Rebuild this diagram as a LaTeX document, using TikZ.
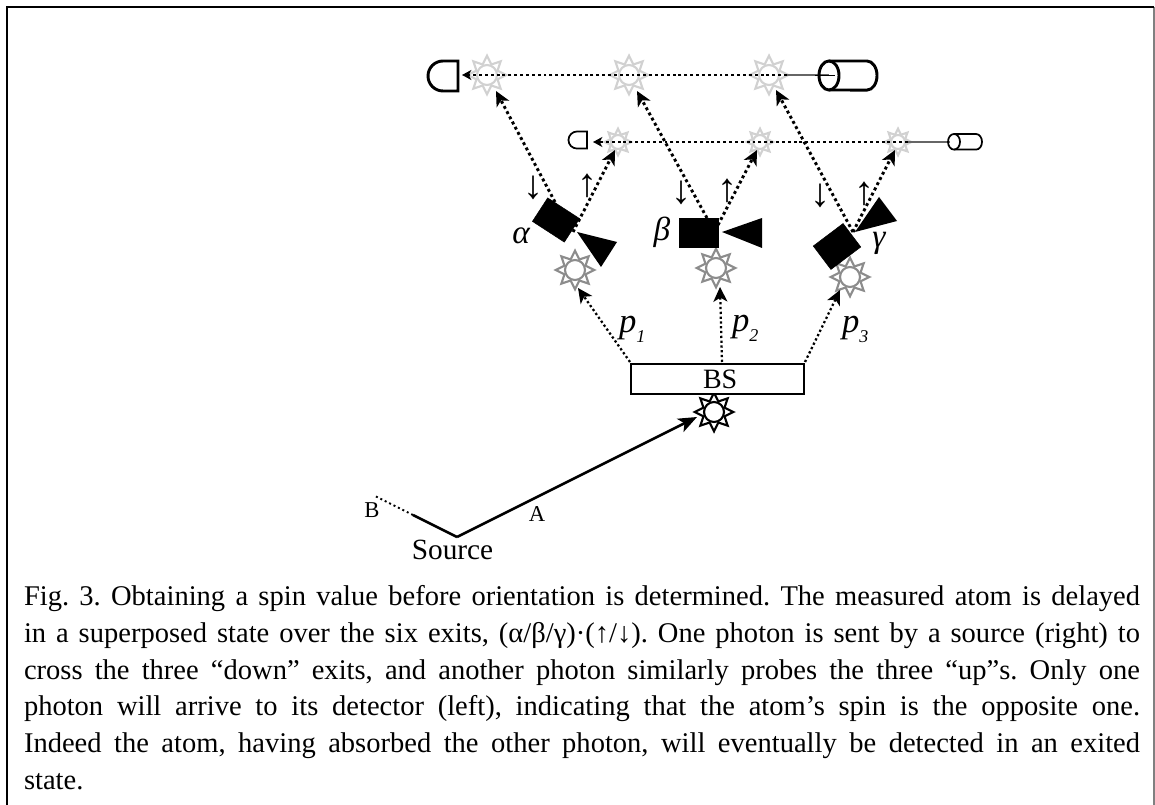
\documentclass[tikz,border=0pt]{standalone}
\usepackage{fontspec}
\setmainfont{Liberation Serif}
\usetikzlibrary{shapes.geometric,arrows.meta,calc}
\definecolor{stargray}{gray}{0.55}
\definecolor{starlight}{gray}{0.82}
\tikzset{
  x=0.75pt,y=-0.75pt,
  every node/.style={inner sep=0pt,outer sep=0pt},
  frame/.style={draw=black,line width=1.6pt},
  startip/.style={-{Stealth[length=11pt,width=10.5pt,inset=3pt]}},
  smalltip/.style={-{Stealth[length=7pt,width=7.5pt,inset=2pt]}},
  dotline/.style={line width=2.2pt,dash pattern=on 2.2pt off 2.2pt,startip},
  dotlineh/.style={line width=2.2pt,dash pattern=on 2.2pt off 2.2pt,smalltip},
  dotlinethin/.style={line width=1.7pt,dash pattern=on 1.7pt off 1.9pt,startip},
  solidray/.style={line width=1.9pt},
  thinray/.style={line width=0.8pt,draw=black!60},
  blockbox/.style={fill=black,draw=black,line width=0.4pt},
  star8/.style={star,star points=8,star point ratio=1.7,fill=white,line width=1.6pt,minimum size=#1},
  bigdet/.style={line width=2.2pt},
  smalldet/.style={line width=1.3pt},
  lab/.style={font=\fontsize{17}{19}\selectfont},
  mathlab/.style={font=\fontsize{25}{28}\selectfont\itshape},
  plab/.style={font=\fontsize{26}{28}\selectfont\itshape},
  arr/.style={font=\fontsize{30}{32}\selectfont},
}
\newcommand{\sunstar}[6]{% name,x,y,colour,size,ringradius
  \node[star8=#5,draw=#4] (#1) at (#2,#3) {};
  \draw[#4,fill=white,line width=1.6pt] (#2,#3) circle (#6);
}
\newcommand{\psub}[1]{p\raisebox{-7.5pt}{\fontsize{13.5}{14}\selectfont #1}}
\begin{document}
\begin{tikzpicture}
\useasboundingbox (0,0) rectangle (1155,805);
\draw[draw=black!50,line width=0.8pt] (1154,7) -- (1154,805);
\draw[frame] (7,805) -- (7,7) -- (1154,7);

% stars
\sunstar{t1}{487}{75}{starlight}{29pt}{10}
\sunstar{t2}{629}{75}{starlight}{29pt}{10}
\sunstar{t3}{769}{75}{starlight}{29pt}{10}
\sunstar{s1}{618}{142}{starlight}{20pt}{7}
\sunstar{s2}{760}{142}{starlight}{20pt}{7}
\sunstar{s3}{898}{142}{starlight}{20pt}{7}
\sunstar{m1}{575}{270}{stargray}{29pt}{10}
\sunstar{m2}{716}{268}{stargray}{29pt}{10}
\sunstar{m3}{850}{277}{stargray}{29pt}{10}
\sunstar{bsstar}{714}{412}{black}{29pt}{10}

% detectors
\node (bigd) at (458,76) {};
\draw[bigdet] (458,61) -- (443,61) arc[start angle=90,end angle=270,radius=11.25pt] -- (458,91) -- cycle;
\node (smalld) at (587,140) {};
\draw[smalldet] (587,131.5) -- (577,131.5) arc[start angle=90,end angle=270,radius=6.4pt] -- (587,148.5) -- cycle;

% sources
\coordinate (bigsrc) at (835,75);
\coordinate (smallsrc) at (950,142);
\draw[thinray] (787,75) -- (bigsrc);
\draw[thinray] (908,142) -- (smallsrc);
\draw[bigdet,fill=white] (829,61) -- (867,61) arc[start angle=90,end angle=-90,x radius=7.5pt,y radius=10.9pt] -- (829,90);
\draw[bigdet] (829,75.5) ellipse[x radius=7.5pt,y radius=10.9pt];
\draw[line width=0.6pt] (815,75) -- (bigsrc);
\draw[smalldet,fill=white] (954,134) -- (976,134) arc[start angle=90,end angle=-90,x radius=4.5pt,y radius=5.85pt] -- (954,149.6);
\draw[smalldet] (954,141.8) ellipse[x radius=4.5pt,y radius=5.85pt];

% horizontal probes
\coordinate (t3e) at (787,75);
\coordinate (s3e) at (908,142);
\coordinate (tipbig) at (462,75);
\coordinate (tipsmall) at (593,142);
\draw[dotlineh] (t3e) -- (tipbig);
\draw[dotlineh] (s3e) -- (tipsmall);

% blocks
\node[blockbox,minimum width=28.5pt,minimum height=21pt,rotate=-33] (ba) at (556,220) {};
\node[blockbox,minimum width=29pt,minimum height=22pt] (bb) at (698.5,232.5) {};
\node[blockbox,minimum width=28pt,minimum height=22pt,rotate=37] (bc) at (837,246.5) {};
\fill (577,232) -- (617,242) -- (601,267) -- cycle;
\fill (722,232) -- (762,218) -- (762,248) -- cycle;
\fill (855,232) -- (879,197) -- (897,221) -- cycle;

% exits
\coordinate (a1) at (555,202); \coordinate (a2) at (573,232);
\coordinate (b1) at (707,218); \coordinate (b2) at (718,225);
\coordinate (c1) at (853,232);
\coordinate (ta) at (496,91); \coordinate (tb) at (637,91); \coordinate (tc) at (776,90);
\coordinate (ua) at (615,150); \coordinate (ub) at (757,150); \coordinate (uc) at (895,150);
\draw[dotline] (a1) -- (ta);
\draw[dotline] (b1) -- (tb);
\draw[dotline] (c1) -- (tc);
\draw[dotline] (a2) -- (ua);
\draw[dotline] (b2) -- (ub);
\draw[dotline] (c1) -- (uc);

% arrows labels
\node[arr] at (533,188) {↓};
\node[arr] at (587,186) {↑};
\node[arr] at (681,193) {↓};
\node[arr] at (727,191) {↑};
\node[arr] at (820,196) {↓};
\node[arr] at (864,194) {↑};
\node[mathlab] at (521,236) {α};
\node[mathlab] at (662,232) {β};
\node[mathlab] at (879,243) {γ};

% beam splitter
\node[draw,line width=1.6pt,fill=white,minimum width=130pt,minimum height=23pt,font=\fontsize{21}{24}\selectfont] (bs) at (717.5,379) {\hspace*{4pt}BS};
\coordinate (p1s) at (630,362); \coordinate (p2s) at (722,362); \coordinate (p3s) at (805,362);
\coordinate (p1t) at (578,288); \coordinate (p2t) at (720,287); \coordinate (p3t) at (840,290);
\draw[dotlinethin] (p1s) -- (p1t);
\draw[dotlinethin] (p2s) -- (p2t);
\draw[dotlinethin] (p3s) -- (p3t);
\node[plab,anchor=base west] at (619,332) {\psub{1}};
\node[plab,anchor=base west] at (732,331) {\psub{2}};
\node[plab,anchor=base west] at (842,332) {\psub{3}};

% source
\coordinate (src) at (457,537);
\coordinate (bmid) at (413,515);
\coordinate (bend) at (375,496);
\coordinate (atip) at (697,417);
\draw[solidray,-{Stealth[length=14pt,width=11pt,inset=3.5pt]}] (src) -- (atip);
\draw[solidray] (src) -- (bmid);
\draw[line width=1.5pt,dash pattern=on 1.5pt off 2.2pt] (bmid) -- (bend);
\node[lab] at (372,510) {B};
\node[lab] at (537,514) {A};
\node[font=\fontsize{22}{24}\selectfont,anchor=base] at (452.5,559) {Source};

% caption
\node[anchor=base west,text width=837pt,font=\fontsize{21.4}{27.5}\selectfont\frenchspacing,align=justify] (cap) at (24,605.7) {%
Fig. 3. Obtaining a spin value before orientation is determined. The measured atom is delayed\linebreak
in a superposed state over the six exits, (α/β/γ)·(↑/↓). One photon is sent by a source (right) to\linebreak
cross the three “down” exits, and another photon similarly probes the three “up”s. Only one\linebreak
photon will arrive to its detector (left), indicating that the atom’s spin is the opposite one.\linebreak
Indeed the atom, having absorbed the other photon, will eventually be detected in an exited\linebreak
state.};
\end{tikzpicture}
\end{document}
